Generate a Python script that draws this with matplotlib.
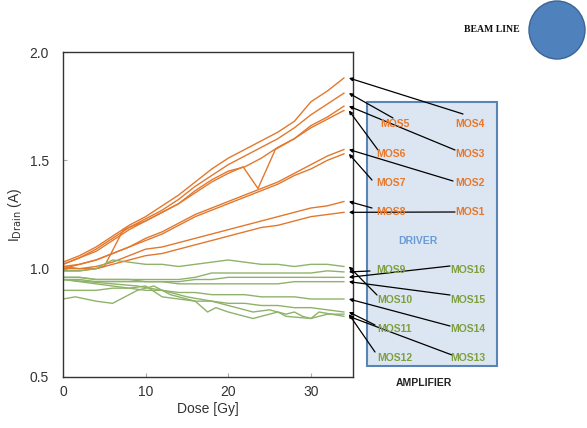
import matplotlib.pyplot as plt
from matplotlib.patches import Rectangle, Ellipse

# dose points (Gy)
dose = [0, 2, 4, 6, 8, 10, 12, 14, 16, 18, 20, 22, 24, 26, 28, 30, 32, 34]

# driver transistors (orange)
mos4 = [1.03, 1.06, 1.10, 1.15, 1.20, 1.24, 1.29, 1.34, 1.40, 1.46, 1.51, 1.55, 1.59, 1.63, 1.68, 1.77, 1.82, 1.88]
mos5 = [1.02, 1.05, 1.09, 1.14, 1.19, 1.23, 1.27, 1.32, 1.38, 1.43, 1.48, 1.52, 1.56, 1.60, 1.65, 1.71, 1.76, 1.81]
mos3 = [1.02, 1.05, 1.08, 1.13, 1.18, 1.22, 1.26, 1.30, 1.36, 1.41, 1.45, 1.47, 1.51, 1.56, 1.60, 1.66, 1.70, 1.75]
dose6 = [0, 2, 4, 5, 7.3, 10, 12, 14, 16, 18, 20, 21.8, 23.6, 25.7, 28, 30, 32, 34]
mos6 = [1.01, 1.00, 1.00, 1.01, 1.18, 1.22, 1.26, 1.30, 1.35, 1.40, 1.44, 1.47, 1.37, 1.55, 1.60, 1.65, 1.69, 1.73]
mos2 = [1.01, 1.02, 1.04, 1.07, 1.10, 1.14, 1.17, 1.21, 1.25, 1.28, 1.31, 1.34, 1.37, 1.40, 1.44, 1.48, 1.52, 1.55]
mos7 = [1.00, 1.02, 1.04, 1.07, 1.10, 1.13, 1.16, 1.20, 1.24, 1.27, 1.30, 1.33, 1.36, 1.39, 1.43, 1.46, 1.50, 1.53]
mos8 = [1.00, 1.00, 1.01, 1.03, 1.06, 1.09, 1.10, 1.12, 1.14, 1.16, 1.18, 1.20, 1.22, 1.24, 1.26, 1.28, 1.29, 1.31]
mos1 = [0.99, 0.99, 1.00, 1.02, 1.04, 1.06, 1.07, 1.09, 1.11, 1.13, 1.15, 1.17, 1.19, 1.20, 1.22, 1.24, 1.25, 1.26]

# amplifier transistors (green)
mos10 = [0.99, 0.99, 1.00, 1.04, 1.03, 1.02, 1.02, 1.01, 1.02, 1.03, 1.04, 1.03, 1.02, 1.02, 1.01, 1.02, 1.02, 1.01]
mos9 = [0.96, 0.96, 0.95, 0.95, 0.95, 0.95, 0.95, 0.95, 0.96, 0.98, 0.98, 0.98, 0.98, 0.98, 0.98, 0.98, 0.99, 0.985]
mos16 = [0.96, 0.96, 0.95, 0.95, 0.95, 0.94, 0.94, 0.94, 0.95, 0.95, 0.96, 0.96, 0.96, 0.96, 0.96, 0.96, 0.96, 0.96]
mos15 = [0.95, 0.95, 0.94, 0.94, 0.94, 0.94, 0.94, 0.93, 0.93, 0.93, 0.93, 0.93, 0.93, 0.93, 0.94, 0.94, 0.94, 0.94]
mos14 = [0.95, 0.94, 0.93, 0.92, 0.91, 0.90, 0.90, 0.89, 0.89, 0.88, 0.88, 0.88, 0.87, 0.87, 0.87, 0.86, 0.86, 0.86]
mos11 = [0.90, 0.90, 0.90, 0.91, 0.91, 0.92, 0.87, 0.86, 0.85, 0.85, 0.84, 0.84, 0.83, 0.83, 0.82, 0.82, 0.81, 0.80]
dose13 = [0, 1.5, 4, 6, 9, 11, 13, 16, 17.5, 18.5, 20, 23, 26, 27, 30, 31, 34]
mos13 = [0.86, 0.87, 0.85, 0.84, 0.90, 0.92, 0.88, 0.85, 0.80, 0.82, 0.80, 0.77, 0.80, 0.78, 0.77, 0.80, 0.78]
dose12 = [0, 3, 6, 9, 12, 15, 18, 20, 22, 23, 25, 27, 28, 29, 30, 32, 34]
mos12 = [0.95, 0.94, 0.93, 0.92, 0.90, 0.87, 0.85, 0.83, 0.81, 0.80, 0.81, 0.79, 0.80, 0.78, 0.77, 0.79, 0.79]

orange = '#e2782e'
green = '#8fb36a'
txt_orange = '#e8782a'
txt_green = '#7f9f3f'

plt.rcParams['font.family'] = ['Liberation Sans', 'DejaVu Sans']

fig = plt.figure(figsize=(5.87, 4.28), dpi=100)
W, H = 587, 428

def px(x, y):
    return (x / W, 1 - y / H)

ax = fig.add_axes([63 / W, 1 - 377 / H, 290 / W, 325 / H])

for y in [mos4, mos5, mos3, mos2, mos7, mos8, mos1]:
    ax.plot(dose, y, color=orange, lw=1.0)
ax.plot(dose6, mos6, color=orange, lw=1.0)
for y in [mos10, mos9, mos16, mos15, mos14, mos11]:
    ax.plot(dose, y, color=green, lw=1.0)
ax.plot(dose13, mos13, color=green, lw=1.0)
ax.plot(dose12, mos12, color=green, lw=1.0)

ax.set_xlim(0, 35.1)
ax.set_ylim(0.5, 2.0)
ax.set_xticks([0, 10, 20, 30])
ax.set_yticks([0.5, 1.0, 1.5, 2.0])
ax.set_yticklabels(['0.5', '1.0', '1.5', '2.0'])
ax.tick_params(direction='in', length=3, color='#aaaaaa', labelsize=10, labelcolor='#333333')
ax.tick_params(axis='y', pad=10)
ax.tick_params(axis='x', pad=6)
for s in ax.spines.values():
    s.set_color('#333333')
    s.set_linewidth(1.0)
ax.set_xlabel('Dose [Gy]', fontsize=10, color='#333333', labelpad=2)
ax.set_ylabel(r'I$_{\mathrm{Drain}}$ (A)', fontsize=10, color='#333333', labelpad=4)

# transistor box
box = Rectangle(px(367, 366), 130 / W, 264 / H, transform=fig.transFigure,
                facecolor='#dce6f2', edgecolor='#5a84b5', lw=1.5, zorder=-1)
fig.add_artist(box)

labels = [
    ('MOS5', 395, 124, txt_orange), ('MOS4', 470, 124, txt_orange),
    ('MOS6', 391, 154, txt_orange), ('MOS3', 470, 154, txt_orange),
    ('MOS7', 391, 183, txt_orange), ('MOS2', 470, 183, txt_orange),
    ('MOS8', 391, 212, txt_orange), ('MOS1', 470, 212, txt_orange),
    ('DRIVER', 418, 241, '#6a9bd6'),
    ('MOS9', 391, 270, txt_green), ('MOS16', 468, 270, txt_green),
    ('MOS10', 395, 300, txt_green), ('MOS15', 468, 300, txt_green),
    ('MOS11', 395, 329, txt_green), ('MOS14', 468, 329, txt_green),
    ('MOS12', 395, 358, txt_green), ('MOS13', 468, 358, txt_green),
]
for t, x, y, c in labels:
    fig.text(*px(x, y), t, color=c, fontsize=7.5, fontweight='bold',
             ha='center', va='center', zorder=3)

fig.text(*px(424, 383), 'AMPLIFIER', fontsize=7.5, fontweight='bold',
         color='#222222', ha='center', va='center')

# arrows from labels to line ends
arrows = [
    (mos4[-1], 463, 114), (mos5[-1], 393, 118), (mos3[-1], 455, 150),
    (mos6[-1], 378, 150), (mos2[-1], 453, 181), (mos7[-1], 372, 180),
    (mos8[-1], 372, 208), (mos1[-1], 455, 212),
    (mos10[-1], 377, 295), (mos9[-1], 370, 271), (mos16[-1], 450, 266),
    (mos15[-1], 450, 295), (mos14[-1], 450, 326), (mos11[-1], 375, 325),
    (mos13[-1], 452, 355), (mos12[-1], 375, 352),
]
for yv, x, y in arrows:
    ax.annotate('', xy=(34.6, yv), xycoords='data', xytext=px(x, y),
                textcoords='figure fraction', annotation_clip=False,
                arrowprops=dict(arrowstyle='-|>', color='black', lw=0.9,
                                mutation_scale=5, shrinkA=0, shrinkB=0,
                                clip_on=False),
                zorder=4)

# beam line
fig.text(*px(492, 30), 'BEAM LINE', fontsize=7, fontweight='bold',
         family='Liberation Serif', color='#111111', ha='center', va='center')
circ = Ellipse(px(557, 30), 56 / W, 58 / H, transform=fig.transFigure,
               facecolor='#4f81bd', edgecolor='#3a6494', lw=1)
fig.add_artist(circ)

fig.savefig('out.png', dpi=100)
